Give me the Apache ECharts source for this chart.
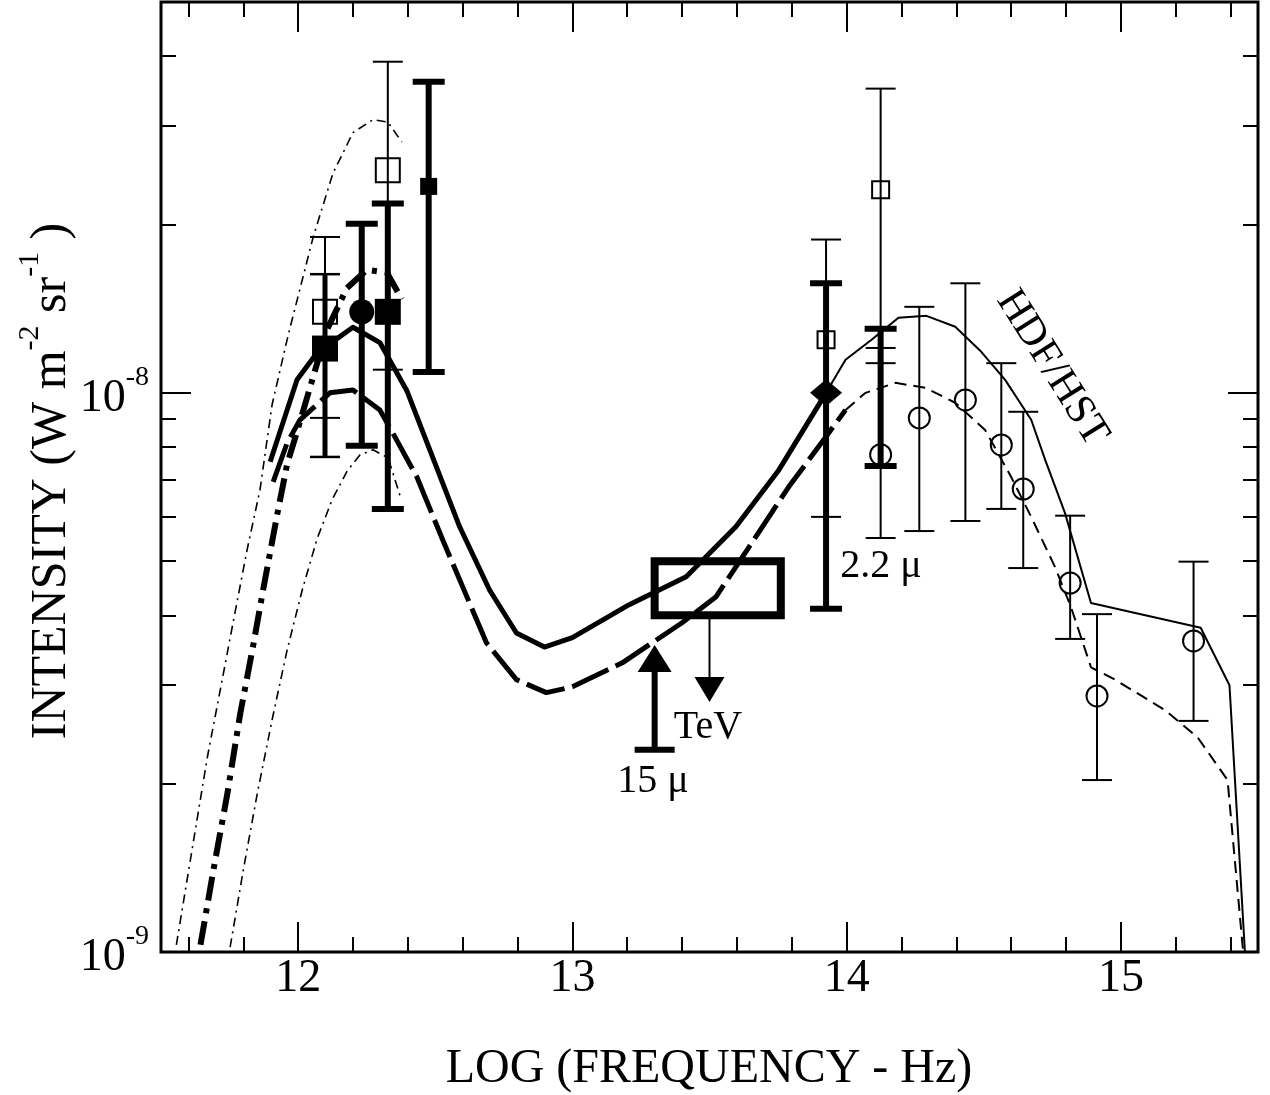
<!DOCTYPE html>
<html>
<head>
<meta charset="utf-8">
<title>Background intensity vs log frequency</title>
<script src="https://cdn.jsdelivr.net/npm/echarts@6.0.0/dist/echarts.min.js"></script>
<style>
html, body { margin: 0; padding: 0; background: #fff; }
#main { width: 1270px; height: 1095px; }
</style>
</head>
<body>
<div id="main"></div>
<script>
// intensities are in units of 1e-9 W m^-2 sr^-1, x is log10(frequency / Hz)
const xMajor = [12, 13, 14, 15];
const xMinor = [11.6, 11.8, 12.2, 12.4, 12.6, 12.8, 13.2, 13.4, 13.6, 13.8, 14.2, 14.4, 14.6, 14.8, 15.2, 15.4];
const yMajor = [1, 10];
const yMinor = [2, 3, 4, 5, 6, 7, 8, 9, 20, 30, 40];
const yTop = 50;

// model curves
const upperThinX = [11.556, 11.607, 11.669, 11.716, 11.764, 11.814, 11.861, 11.905, 11.964, 12.055, 12.127, 12.2, 12.273, 12.327, 12.378];
const upperThinY = [1.03, 1.46, 2.23, 2.94, 3.91, 5.24, 6.71, 9.52, 12.7, 19.0, 24.7, 29.2, 30.8, 30.5, 28.1];
const lowerThinX = [11.752, 11.8, 11.851, 11.905, 11.96, 12.015, 12.069, 12.124, 12.179, 12.226, 12.273, 12.328, 12.372];
const lowerThinY = [1.02, 1.40, 1.92, 2.60, 3.47, 4.44, 5.48, 6.44, 7.25, 7.75, 7.91, 7.65, 6.54];
const dashDotX = [11.644, 11.691, 11.742, 11.789, 11.836, 11.873, 11.924, 11.96, 11.996, 12.044, 12.105, 12.178, 12.251, 12.324, 12.378];
const dashDotY = [1.03, 1.40, 1.92, 2.67, 3.53, 4.46, 6.07, 7.46, 8.52, 10.25, 12.96, 15.4, 16.6, 16.4, 14.7];
const thickSolidX = [11.898, 11.996, 12.069, 12.2, 12.298, 12.396, 12.589, 12.698, 12.796, 12.898, 13.0, 13.207, 13.415, 13.596, 13.753, 13.925];
const thickSolidY = [7.53, 10.55, 11.79, 13.1, 12.3, 10.1, 5.76, 4.44, 3.72, 3.51, 3.65, 4.18, 4.69, 5.76, 7.28, 10.0];
const thickDashX = [11.909, 11.96, 12.007, 12.116, 12.2, 12.298, 12.345, 12.433, 12.527, 12.687, 12.796, 12.905, 13.0, 13.182, 13.4, 13.524, 13.644, 13.789, 13.924, 13.996];
const thickDashY = [6.93, 8.14, 8.95, 10.0, 10.12, 9.32, 8.48, 7.07, 5.46, 3.57, 3.07, 2.91, 2.98, 3.29, 3.88, 4.32, 5.30, 6.79, 8.34, 9.32];
const thinSolidX = [13.925, 13.996, 14.091, 14.189, 14.291, 14.396, 14.491, 14.578, 14.673, 14.724, 14.796, 14.891, 15.291, 15.396, 15.455];
const thinSolidY = [10.0, 11.46, 12.44, 13.62, 13.73, 13.13, 11.84, 10.55, 8.95, 7.59, 6.10, 4.21, 3.80, 3.00, 0.95];
const thinDashX = [13.996, 14.069, 14.178, 14.287, 14.396, 14.505, 14.6, 14.673, 14.76, 14.818, 14.891, 14.978, 15.16, 15.28, 15.389, 15.45];
const thinDashY = [9.32, 10.0, 10.42, 10.21, 9.60, 8.58, 7.07, 6.00, 4.88, 4.14, 3.23, 3.07, 2.71, 2.42, 2.03, 0.95];

// measurements [x, value]
const openSqBig = [[12.098, 13.96], [12.327, 25.0]];
const openSqSmall = [[13.925, 12.44], [14.124, 23.07]];
const filledSqBig = [[12.098, 12.0], [12.327, 13.96]];
const filledSqSmall = [[12.476, 23.4]];
const filledCircle = [[12.232, 13.96]];
const diamondPt = [[13.925, 10.0]];
const openCircles = [[14.124, 7.75], [14.265, 9.02], [14.433, 9.71], [14.564, 8.07], [14.644, 6.73], [14.815, 4.57], [14.913, 2.87], [15.265, 3.60]];

// error bars [x, low, high]
const thinErr = [[12.098, 9.02, 19.0], [12.327, 11.0, 39.1], [13.925, 6.00, 18.8], [14.124, 11.3, 35.0], [14.124, 5.50, 12.03],
  [14.265, 5.66, 14.25], [14.433, 5.90, 15.7], [14.564, 6.20, 11.3], [14.644, 4.86, 9.25], [14.815, 3.63, 6.03],
  [14.913, 2.03, 4.02], [15.265, 2.59, 4.99]];
const midErr = [[12.098, 7.68, 16.3]];
const thickErr = [[12.232, 8.04, 20.06], [12.327, 6.20, 21.8], [12.476, 10.9, 36.0], [13.925, 4.11, 15.7], [14.124, 7.40, 13.02]];

// TeV box: x range and intensity range
const tevBoxX = [13.3, 13.76];
const tevBoxY = [4.0, 5.0];
// limit arrows [x, from, to]
const tevArrow = [[13.5, 4.0, 2.80]];
const arrow15 = [[13.3, 2.30, 3.54]];

const FONT = 'Liberation Serif';
const lg = v => Math.log10(v) - 9;
const pts = (xs, vs) => xs.map((x, i) => [x, lg(vs[i])]);
const conv = arr => arr.map(d => [d[0]].concat(d.slice(1).map(lg)));

const chart = echarts.init(document.getElementById('main'));

function xAx(pos, vals, len, labels) {
  return {
    type: 'value', position: pos, min: 11.5, max: 15.5,
    axisLine: { show: false }, splitLine: { show: false },
    axisTick: { show: true, inside: true, length: len, customValues: vals, lineStyle: { color: '#000', width: 2 } },
    axisLabel: labels ? { customValues: vals, color: '#000', fontFamily: FONT, fontSize: 46, margin: 4 } : { show: false }
  };
}
function yAx(pos, vals, len, labels) {
  return {
    type: 'value', position: pos, min: lg(yMajor[0]), max: lg(yTop),
    axisLine: { show: false }, splitLine: { show: false },
    axisTick: { show: true, inside: true, length: len, customValues: vals.map(lg), lineStyle: { color: '#000', width: 2 } },
    axisLabel: labels ? {
      customValues: vals.map(lg), margin: 12,
      formatter: v => '{n|10}{s|' + Math.round(v) + '}',
      rich: {
        n: { fontFamily: FONT, fontSize: 46, color: '#000', verticalAlign: 'bottom' },
        s: { fontFamily: FONT, fontSize: 28, color: '#000', verticalAlign: 'top', padding: [0, 0, 30, 0] }
      }
    } : { show: false }
  };
}

function curve(xs, vs, width, dash) {
  return {
    type: 'line', data: pts(xs, vs), symbol: 'none', silent: true, z: 3,
    lineStyle: { color: '#000', width: width, type: dash, cap: 'butt', join: 'round' }
  };
}
function marks(data, symbol, size, filled, bw) {
  return {
    type: 'scatter', data: conv(data), symbol: symbol, symbolSize: size, silent: true, z: 5,
    itemStyle: { color: filled ? '#000' : 'transparent', borderColor: '#000', borderWidth: bw, opacity: 1 }
  };
}
function bars(data, lw, capW, capLw) {
  return {
    type: 'custom', data: conv(data), silent: true, z: 4, encode: { x: 0, y: 1 },
    renderItem: (params, api) => {
      const x = api.value(0);
      const a = api.coord([x, api.value(1)]);
      const b = api.coord([x, api.value(2)]);
      const st = { stroke: '#000', lineWidth: lw };
      const cs = { stroke: '#000', lineWidth: capLw };
      return {
        type: 'group', children: [
          { type: 'line', shape: { x1: a[0], y1: a[1], x2: b[0], y2: b[1] }, style: st },
          { type: 'line', shape: { x1: a[0] - capW / 2, y1: a[1], x2: a[0] + capW / 2, y2: a[1] }, style: cs },
          { type: 'line', shape: { x1: b[0] - capW / 2, y1: b[1], x2: b[0] + capW / 2, y2: b[1] }, style: cs }
        ]
      };
    }
  };
}
function arrow(data, lw, headW, headH, capW) {
  return {
    type: 'custom', data: conv(data), silent: true, z: 4, encode: { x: 0, y: 1 },
    renderItem: (params, api) => {
      const x = api.value(0);
      const a = api.coord([x, api.value(1)]);
      const b = api.coord([x, api.value(2)]);
      const dir = b[1] > a[1] ? 1 : -1;
      const base = b[1] - dir * headH;
      const kids = [
        { type: 'line', shape: { x1: a[0], y1: a[1], x2: a[0], y2: base }, style: { stroke: '#000', lineWidth: lw } },
        { type: 'polygon', shape: { points: [[b[0] - headW / 2, base], [b[0] + headW / 2, base], [b[0], b[1]]] }, style: { fill: '#000' } }
      ];
      if (capW) {
        kids.push({ type: 'line', shape: { x1: a[0] - capW / 2, y1: a[1], x2: a[0] + capW / 2, y2: a[1] }, style: { stroke: '#000', lineWidth: lw } });
      }
      return { type: 'group', children: kids };
    }
  };
}

const option = {
  animation: false,
  backgroundColor: '#fff',
  grid: { left: 161, right: 12, top: 2, bottom: 143, show: true, borderColor: '#000', borderWidth: 3, backgroundColor: 'transparent' },
  xAxis: [
    xAx('bottom', xMajor, 30, true),
    xAx('bottom', xMinor, 15, false),
    xAx('top', xMajor, 30, false),
    xAx('top', xMinor, 15, false)
  ],
  yAxis: [
    yAx('left', yMajor, 30, true),
    yAx('left', yMinor, 15, false),
    yAx('right', yMajor, 30, false),
    yAx('right', yMinor, 15, false)
  ],
  series: [
    curve(upperThinX, upperThinY, 1.6, [9, 5, 2, 5]),
    curve(lowerThinX, lowerThinY, 1.6, [9, 5, 2, 5]),
    curve(dashDotX, dashDotY, 6, [24, 8, 5, 8]),
    curve(thickSolidX, thickSolidY, 5, 'solid'),
    curve(thickDashX, thickDashY, 5, [40, 8]),
    curve(thinSolidX, thinSolidY, 2, 'solid'),
    curve(thinDashX, thinDashY, 2, [12, 7]),
    bars(thinErr, 2, 30, 2),
    bars(midErr, 5, 30, 2.5),
    bars(thickErr, 6, 32, 6),
    {
      type: 'custom', data: [[tevBoxX[0], lg(tevBoxY[0]), tevBoxX[1], lg(tevBoxY[1])]],
      silent: true, z: 4, encode: { x: 0, y: 1 },
      renderItem: (params, api) => {
        const p0 = api.coord([api.value(0), api.value(1)]);
        const p1 = api.coord([api.value(2), api.value(3)]);
        return {
          type: 'rect',
          shape: { x: p0[0], y: p1[1], width: p1[0] - p0[0], height: p0[1] - p1[1] },
          style: { fill: 'none', stroke: '#000', lineWidth: 8 }
        };
      }
    },
    arrow(tevArrow, 2, 30, 25, 0),
    arrow(arrow15, 6, 34, 27, 40),
    marks(openSqBig, 'rect', 24, false, 2),
    marks(openSqSmall, 'rect', 17, false, 2),
    marks(filledSqBig, 'rect', 26, true, 0),
    marks(filledSqSmall, 'rect', 17, true, 0),
    marks(filledCircle, 'circle', 25, true, 0),
    marks(diamondPt, 'diamond', [32, 27], true, 0),
    marks(openCircles, 'circle', 21, false, 2)
  ],
  graphic: [
    {
      type: 'text', x: 46, y: 481, rotation: Math.PI / 2,
      style: {
        text: '{n|INTENSITY (W m}{s|-2}{n| sr}{s|-1}{n| )}',
        align: 'center', verticalAlign: 'middle',
        rich: {
          n: { fontFamily: FONT, fontSize: 50, fill: '#000', verticalAlign: 'bottom' },
          s: { fontFamily: FONT, fontSize: 30, fill: '#000', verticalAlign: 'top', padding: [0, 0, 32, 0] }
        }
      }
    },
    {
      type: 'text', x: 709, y: 1069,
      style: { text: 'LOG (FREQUENCY - Hz)', font: '48px "Liberation Serif"', fill: '#000', align: 'center', verticalAlign: 'middle' }
    },
    { type: 'text', x: 708, y: 727, style: { text: 'TeV', font: '40px "Liberation Serif"', fill: '#000', align: 'center', verticalAlign: 'middle' } },
    { type: 'text', x: 653, y: 781, style: { text: '15 \u03bc', font: '40px "Liberation Serif"', fill: '#000', align: 'center', verticalAlign: 'middle' } },
    { type: 'text', x: 881, y: 566, style: { text: '2.2 \u03bc', font: '40px "Liberation Serif"', fill: '#000', align: 'center', verticalAlign: 'middle' } },
    {
      type: 'text', x: 1052, y: 368, rotation: -58 * Math.PI / 180,
      style: { text: 'HDF/HST', font: '42px "Liberation Serif"', fill: '#000', align: 'center', verticalAlign: 'middle' }
    }
  ]
};

chart.setOption(option);
</script>
</body>
</html>
